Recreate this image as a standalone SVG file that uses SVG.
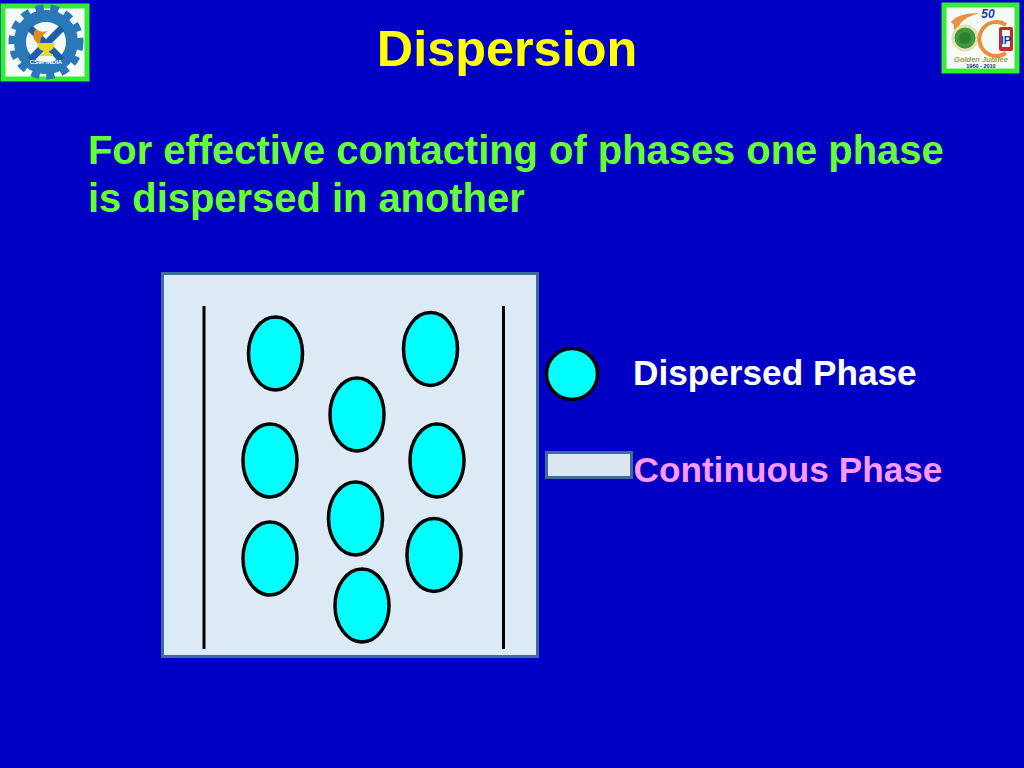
<svg xmlns="http://www.w3.org/2000/svg" width="1024" height="768" viewBox="0 0 1024 768">
<style>
text{font-family:"Liberation Sans",Arial,sans-serif;font-weight:bold}
.drop{fill:#00ffff;stroke:#000;stroke-width:3.5}
.wall{stroke:#000;stroke-width:3;fill:none}
.head{fill:#66ff33;font-size:39.9px}
.leg{font-size:35.2px;font-weight:bold}
.frame{fill:#f4fbf8;stroke:#33ee33;stroke-width:5}
</style>
<defs><ellipse id="d" class="drop" rx="27" ry="36.5"/></defs>
<rect width="1024" height="768" fill="#0000c4"/>
<g id="title"><text x="507" y="65.500" text-anchor="middle" font-size="50.4" fill="#ffff00">Dispersion</text></g>
<g id="heading"><text class="head" x="88" y="164">For effective contacting of phases one phase</text><text class="head" x="88" y="212">is dispersed in another</text></g>
<g id="logo-left">
<rect class="frame" x="3" y="6" width="84" height="73"/>
<g fill="none">
<circle cx="46" cy="42" r="33" stroke="#2a78b8" stroke-width="9" stroke-dasharray="8 6.5"/>
<circle cx="46" cy="42" r="26" stroke="#2a78b8" stroke-width="12"/>
<path d="M30 60 62 28M62 60 30 28" stroke-width="7" stroke="#1f5fa8"/>
</g>
<path d="M36 29q-7 9 4 16 -1-8 8-14 -8 2-12-2z" fill="#e08a20"/>
<path d="M37 43h18q-1 7-6 8v3h4v2H40v-2h4v-3q-6-1-7-8z" fill="#e8d820"/>
<text x="46" y="64" text-anchor="middle" font-size="6" fill="#fff">CSIR INDIA</text>
</g>
<g id="logo-right">
<rect class="frame" x="944" y="5" width="73" height="66"/>
<path d="M980 13q-22 0-29 9l3 3q-2 9 12 11-8-5-7-10 4-9 21-13z" fill="#e89040"/>
<circle cx="965" cy="38" r="12" fill="#3d9a40" stroke="#e8e0b0" stroke-width="3"/>
<circle cx="965" cy="38" r="6" fill="#2f7f35"/>
<path d="M1006 25a17 17 0 1 0 0 28" fill="none" stroke="#e89040" stroke-width="4"/>
<rect x="999" y="27" width="14" height="24" fill="#c62830" rx="2"/>
<rect x="1002" y="30" width="8" height="17" fill="#fff"/>
<text x="1006" y="44" text-anchor="middle" font-size="11" fill="#2040a0">IP</text>
<text x="988" y="18" text-anchor="middle" font-size="12" font-style="italic" fill="#2040a0">50</text>
<text x="981" y="62" text-anchor="middle" font-size="7.500" font-style="italic" fill="#9a9a50">Golden Jubilee</text>
<text x="981" y="68" text-anchor="middle" font-size="5.500" fill="#203070">1960 - 2010</text>
</g>
<g id="vessel">
<rect x="162.500" y="273.500" width="375" height="383" fill="#dbeaf4" stroke="#3f6a9c" stroke-width="3"/>
<path class="wall" d="M204 306V649M503.500 306V649"/>
</g>
<g id="drops">
<use href="#d" x="275.500" y="353.500"/>
<use href="#d" x="430.500" y="349"/>
<use href="#d" x="357" y="414.500"/>
<use href="#d" x="270" y="460.500"/>
<use href="#d" x="437" y="460.500"/>
<use href="#d" x="355.500" y="518.500"/>
<use href="#d" x="270" y="558.500"/>
<use href="#d" x="434" y="555"/>
<use href="#d" x="362" y="605.500"/>
</g>
<g id="legend-dispersed">
<circle cx="572" cy="374" r="25.500" fill="#00ffff" stroke="#000" stroke-width="3.500"/>
<text class="leg" x="633" y="384.500" fill="#fff">Dispersed Phase</text>
</g>
<g id="legend-continuous">
<rect x="546.500" y="452.500" width="85" height="25" fill="#dce6f0" stroke="#3f6a9c" stroke-width="3"/>
<text class="leg" x="633.500" y="481.500" fill="#ff99ff">Continuous Phase</text>
</g>
<g id="connectors"/>
</svg>
